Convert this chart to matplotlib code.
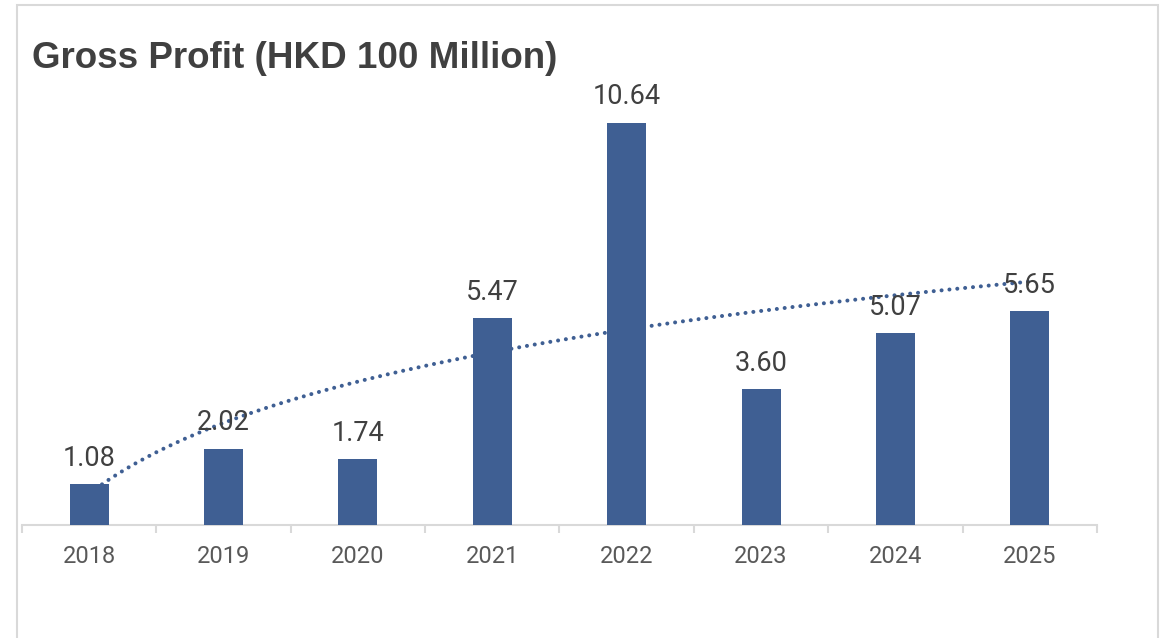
import numpy as np
import matplotlib.pyplot as plt
from matplotlib.patches import Rectangle

# data
years = ['2018', '2019', '2020', '2021', '2022', '2023', '2024', '2025']
gross_profit = [1.08, 2.02, 1.74, 5.47, 10.64, 3.60, 5.07, 5.65]

bar_color = '#3F5F93'
text_color = '#404040'
axis_gray = '#D9D9D9'

fig = plt.figure(figsize=(11.61, 6.38), dpi=100)
ax = fig.add_axes([0.01895, 0.1767, 0.9259, 0.7117])

x = np.arange(len(years))
bars = ax.bar(x, gross_profit, width=0.29, color=bar_color, zorder=3)

# logarithmic trendline (Excel style), drawn behind the bars
n = np.arange(1, len(years) + 1)
b, a = np.polyfit(np.log(n), gross_profit, 1)
xt = np.linspace(1, len(years), 200)
ax.plot(xt - 1, a + b * np.log(xt), color=bar_color, lw=2.9,
        linestyle=(0, (0.01, 1.95)), dash_capstyle='round', zorder=2)

# value labels
for xi, v in zip(x, gross_profit):
    ax.annotate(f'{v:.2f}', (xi, v), xytext=(0, 9), textcoords='offset points',
                ha='center', va='bottom', fontsize=19.5, family='Roboto',
                color=text_color, zorder=4)

ax.set_xlim(-0.5, len(years) - 0.5)
ax.set_ylim(0, 12)
ax.set_yticks([])
ax.set_xticks(x)
ax.set_xticklabels(years, fontsize=17, family='Roboto', color='#595959')
ax.set_xticks(np.arange(-0.5, len(years)), minor=True)
ax.tick_params(axis='x', which='major', length=0, pad=14)
ax.tick_params(axis='x', which='minor', length=6, width=1.5, color=axis_gray)
for side in ['top', 'left', 'right']:
    ax.spines[side].set_visible(False)
ax.spines['bottom'].set_color(axis_gray)
ax.spines['bottom'].set_linewidth(1.5)

fig.text(32 / 1161, 1 - 68 / 638, 'Gross Profit (HKD 100 Million)',
         fontsize=26.5, fontweight='bold', family='Liberation Sans',
         color=text_color, va='baseline', ha='left')

# outer chart frame
fig.patches.append(Rectangle((17 / 1161, -0.1), (1158 - 17) / 1161, 1.1 - 5 / 638,
                             transform=fig.transFigure, fill=False,
                             edgecolor=axis_gray, lw=1.5))

fig.savefig('out.png', dpi=100)
